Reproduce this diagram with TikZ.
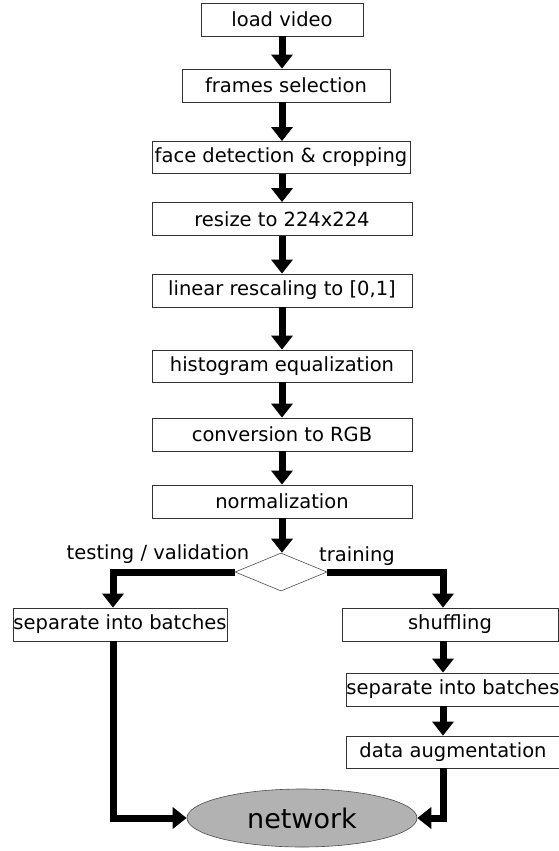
\documentclass[tikz,border=0pt]{standalone}
\usepackage{fontspec}
\setmainfont{DejaVu Sans}
\usetikzlibrary{positioning, arrows.meta, shapes.geometric}

\begin{document}
\begin{tikzpicture}[
    x=1pt, y=-1pt,
    font=\fontsize{19.5}{23}\selectfont,
    flow/.style={-{Triangle[width=21pt, length=14pt]}, line width=7pt, draw=black},
    stepbox/.style={draw=black!80, fill=white, line width=0.8pt, inner sep=0pt, minimum height=33pt, text=black},
    decision/.style={diamond, draw=black!70, line width=0.6pt, inner sep=0pt, minimum width=92pt, minimum height=38pt},
    branch/.style={font=\fontsize{19.5}{23}\selectfont, text=black},
    netnode/.style={ellipse, draw=black!70, fill=gray!60, line width=0.6pt, minimum width=230pt, minimum height=58pt, font=\fontsize{27}{30}\selectfont}
]
\useasboundingbox (0,0) rectangle (559,851);

% Preprocessing chain
\node[stepbox, minimum width=162pt] (load) at (282, 19.5) {load video};
\node[stepbox, minimum width=208pt] (frames) at (286, 85.5) {frames selection};
\node[stepbox, minimum width=258pt, minimum height=32pt] (face) at (281, 157.5) {face detection \& cropping};
\node[stepbox, minimum width=260pt] (resize) at (282, 219) {resize to 224x224};
\node[stepbox, minimum width=260pt] (rescale) at (282, 290.5) {linear rescaling to [0,1]};
\node[stepbox, minimum width=260pt, minimum height=32pt] (histeq) at (282, 366) {histogram equalization};
\node[stepbox, minimum width=260pt] (rgb) at (282, 434.5) {conversion to RGB};
\node[stepbox, minimum width=260pt] (norm) at (282, 501.5) {normalization};

\draw[flow] (load.south) -- (load.south |- frames.north);
\draw[flow] (load.south |- frames.south) -- (load.south |- face.north);
\draw[flow] (load.south |- face.south) -- (resize.north);
\draw[flow] (resize.south) -- (rescale.north);
\draw[flow] (rescale.south) -- (histeq.north);
\draw[flow] (histeq.south) -- (rgb.north);
\draw[flow] (rgb.south) -- (norm.north);

% Split
\node[decision] (split) at (281, 572) {};
\draw[flow] (norm.south) -- (norm.south |- split.north);
\node[branch] (testlbl) at (158, 554) {testing / validation};
\node[branch] (trainlbl) at (357, 556) {training};

% Two branches
\node[stepbox, minimum width=214pt] (testbatch) at (120, 624.5) {separate into batches};
\node[stepbox, minimum width=216pt] (shuffle) at (450, 624.5) {shuffling};
\node[stepbox, minimum width=214pt] (trainbatch) at (453, 689.5) {separate into batches};
\node[stepbox, minimum width=214pt, minimum height=32pt] (augment) at (453, 752) {data augmentation};

\draw[flow] (split.west) -| ([xshift=-7pt]testbatch.north);
\draw[flow] (split.east) -| ([xshift=-7pt]shuffle.north);
\draw[flow] ([xshift=-7pt]shuffle.south) -- ([xshift=-10pt]trainbatch.north);
\draw[flow] ([xshift=-10pt]trainbatch.south) -- ([xshift=-10pt]augment.north);

% Network
\node[netnode] (net) at (302, 818) {network};
\draw[flow] ([xshift=-7pt]testbatch.south) |- (net.west);
\draw[flow] ([xshift=-10pt]augment.south) |- (net.east);

\end{tikzpicture}
\end{document}
